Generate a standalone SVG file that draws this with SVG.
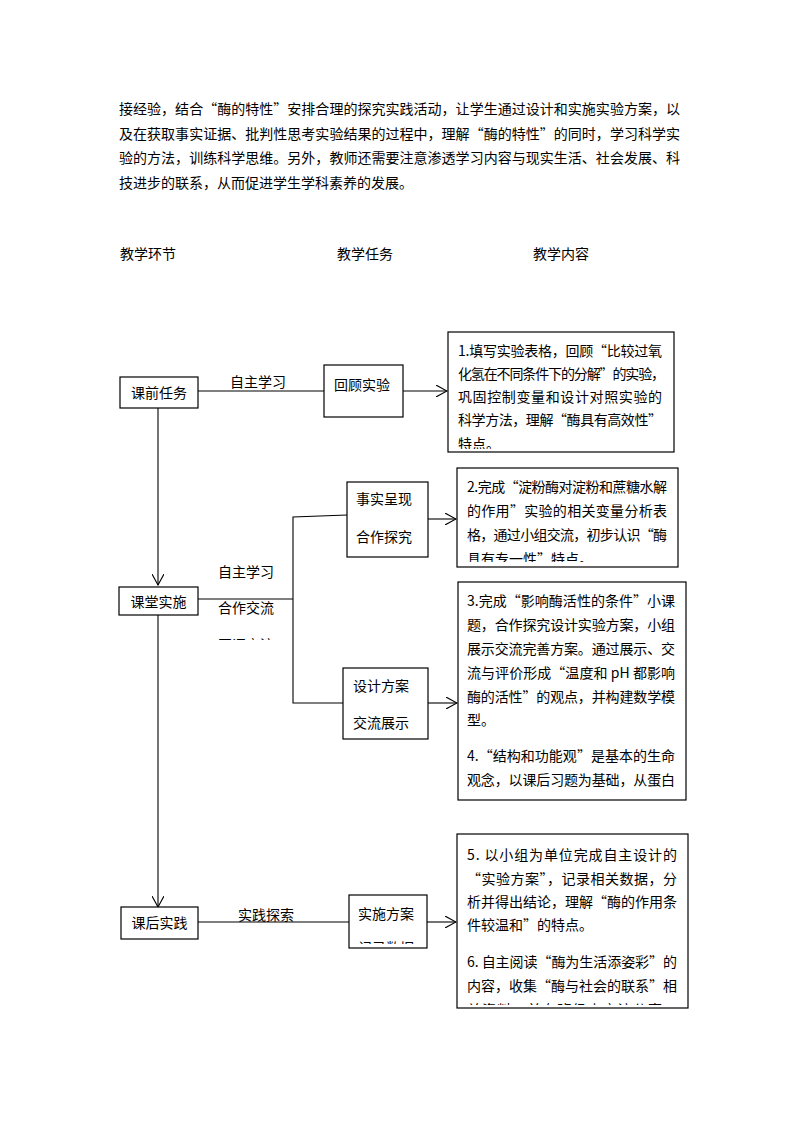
<svg xmlns="http://www.w3.org/2000/svg" width="794" height="1123" viewBox="0 0 794 1123">
<style>
text{font-family:"Noto Sans CJK SC","Noto Sans",sans-serif;font-size:14px;fill:#000}
.box{fill:#fff;stroke:#000;stroke-width:1.2}
.ln{fill:none;stroke:#000;stroke-width:1.1}
.mid{text-anchor:middle}
</style>
<defs>
<marker id="ah" viewBox="0 0 12 12" refX="11" refY="6" markerWidth="12" markerHeight="12" markerUnits="userSpaceOnUse" orient="auto">
<path d="M0,0 L11,6 L0,12" fill="none" stroke="#000" stroke-width="1.1"/>
</marker>
<clipPath id="c1"><rect x="448" y="332" width="226" height="117"/></clipPath>
<clipPath id="c2"><rect x="457" y="468" width="221" height="94"/></clipPath>
<clipPath id="c6"><rect x="457" y="834" width="231" height="171"/></clipPath>
<clipPath id="cf1"><rect x="210" y="560" width="80" height="80"/></clipPath>
<clipPath id="cf2"><rect x="349" y="895" width="78" height="49"/></clipPath>
</defs>

<g id="intro">
<text x="119" y="114" textLength="561" lengthAdjust="spacing">接经验，结合“酶的特性”安排合理的探究实践活动，让学生通过设计和实施实验方案，以</text>
<text x="119" y="139" textLength="561" lengthAdjust="spacing">及在获取事实证据、批判性思考实验结果的过程中，理解“酶的特性”的同时，学习科学实</text>
<text x="119" y="163" textLength="561" lengthAdjust="spacing">验的方法，训练科学思维。另外，教师还需要注意渗透学习内容与现实生活、社会发展、科</text>
<text x="119" y="188">技进步的联系，从而促进学生学科素养的发展。</text>
</g>

<g id="headers">
<text x="120" y="259">教学环节</text>
<text x="337" y="259">教学任务</text>
<text x="533" y="259">教学内容</text>
</g>

<g id="connectors">
<line class="ln" x1="158" y1="408" x2="158" y2="585" marker-end="url(#ah)"/>
<line class="ln" x1="158" y1="614" x2="158" y2="907" marker-end="url(#ah)"/>
<line class="ln" x1="198" y1="391" x2="324" y2="391"/>
<line class="ln" x1="403" y1="391" x2="447" y2="391" marker-end="url(#ah)"/>
<line class="ln" x1="198" y1="599" x2="293" y2="599"/>
<polyline class="ln" points="347,515 293,517 293,703 343,703"/>
<line class="ln" x1="428" y1="519" x2="456" y2="519" marker-end="url(#ah)"/>
<line class="ln" x1="428" y1="703" x2="457" y2="703" marker-end="url(#ah)"/>
<line class="ln" x1="198" y1="922" x2="349" y2="922"/>
<line class="ln" x1="427" y1="922" x2="456" y2="922" marker-end="url(#ah)"/>
<text x="230" y="387">自主学习</text>
<text x="218" y="577">自主学习</text>
<text x="218" y="613">合作交流</text>
<text x="218" y="649.5" clip-path="url(#cf1)">互评交流</text>
<text x="238" y="920">实践探索</text>
</g>

<g id="n-pre">
<rect class="box" x="120" y="377" width="78" height="31"/>
<text class="mid" x="159" y="398">课前任务</text>
</g>
<g id="n-class">
<rect class="box" x="119" y="587" width="79" height="28"/>
<text class="mid" x="158.5" y="607">课堂实施</text>
</g>
<g id="n-post">
<rect class="box" x="121" y="907" width="77" height="32"/>
<text class="mid" x="159.5" y="928">课后实践</text>
</g>

<g id="t-review">
<rect class="box" x="324" y="365" width="79" height="52"/>
<text x="334" y="390">回顾实验</text>
</g>
<g id="t-fact">
<rect class="box" x="347" y="482" width="81" height="75"/>
<text x="356" y="504">事实呈现</text>
<text x="356" y="542">合作探究</text>
</g>
<g id="t-design">
<rect class="box" x="343" y="668" width="85" height="71"/>
<text x="353" y="691">设计方案</text>
<text x="353" y="728">交流展示</text>
</g>
<g id="t-impl">
<rect class="box" x="349" y="895" width="78" height="53"/>
<text x="358" y="919">实施方案</text>
<text x="358" y="953" clip-path="url(#cf2)">记录数据</text>
</g>

<g id="c-1">
<rect class="box" x="448" y="332" width="226" height="120"/>
<g clip-path="url(#c1)">
<text x="458" y="356" textLength="204" lengthAdjust="spacing">1.填写实验表格，回顾“比较过氧</text>
<text x="458" y="379" textLength="207" lengthAdjust="spacing">化氢在不同条件下的分解”的实验，</text>
<text x="458" y="402" textLength="204" lengthAdjust="spacing">巩固控制变量和设计对照实验的</text>
<text x="458" y="425" textLength="204" lengthAdjust="spacing">科学方法，理解“酶具有高效性”</text>
<text x="458" y="449">特点。</text>
</g>
</g>

<g id="c-2">
<rect class="box" x="457" y="468" width="221" height="99"/>
<g clip-path="url(#c2)">
<text x="467" y="492" textLength="200" lengthAdjust="spacing">2.完成“淀粉酶对淀粉和蔗糖水解</text>
<text x="467" y="516" textLength="200" lengthAdjust="spacing">的作用”实验的相关变量分析表</text>
<text x="467" y="540" textLength="200" lengthAdjust="spacing">格，通过小组交流，初步认识“酶</text>
<text x="467" y="564">具有专一性”特点。</text>
</g>
</g>

<g id="c-3">
<rect class="box" x="458" y="582" width="228" height="218"/>
<text x="467" y="606" textLength="208" lengthAdjust="spacing">3.完成“影响酶活性的条件”小课</text>
<text x="467" y="630" textLength="208" lengthAdjust="spacing">题，合作探究设计实验方案，小组</text>
<text x="467" y="654" textLength="208" lengthAdjust="spacing">展示交流完善方案。通过展示、交</text>
<text x="467" y="678" textLength="208" lengthAdjust="spacing">流与评价形成“温度和 pH 都影响</text>
<text x="467" y="702" textLength="208" lengthAdjust="spacing">酶的活性”的观点，并构建数学模</text>
<text x="467" y="725">型。</text>
<text x="467" y="761" textLength="208" lengthAdjust="spacing">4.“结构和功能观”是基本的生命</text>
<text x="467" y="785" textLength="208" lengthAdjust="spacing">观念，以课后习题为基础，从蛋白</text>
</g>

<g id="c-5">
<rect class="box" x="457" y="834" width="231" height="174"/>
<g clip-path="url(#c6)">
<text x="467" y="860" textLength="210" lengthAdjust="spacing">5. 以小组为单位完成自主设计的</text>
<text x="467" y="884" textLength="210" lengthAdjust="spacing">“实验方案”，记录相关数据，分</text>
<text x="467" y="907" textLength="210" lengthAdjust="spacing">析并得出结论，理解“酶的作用条</text>
<text x="467" y="930">件较温和”的特点。</text>
<text x="467" y="967" textLength="210" lengthAdjust="spacing">6. 自主阅读“酶为生活添姿彩”的</text>
<text x="467" y="991" textLength="210" lengthAdjust="spacing">内容，收集“酶与社会的联系”相</text>
<text x="467" y="1014.5" textLength="210" lengthAdjust="spacing">关资料，并在班级中交流分享。</text>
</g>
</g>
</svg>
